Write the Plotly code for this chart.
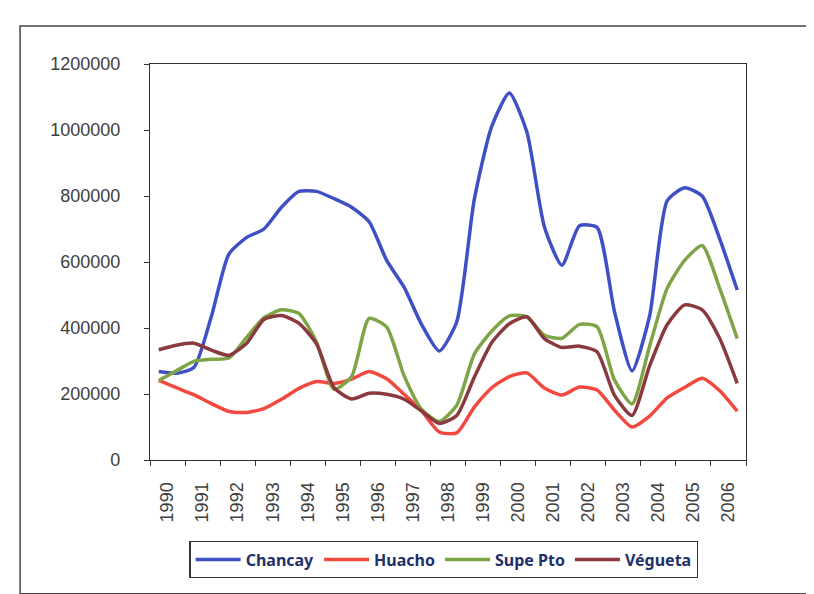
import plotly.graph_objects as go

years = [str(y) for y in range(1990, 2007)]

# semi-annual values (two points per year label)
chancay = [268000, 263000, 280000, 435000, 624000, 674000, 700000, 766000, 814000, 814000,
           792000, 766000, 722000, 605000, 523000, 410000, 330000, 419000, 790000, 1012000,
           1112000, 994000, 706000, 590000, 710000, 705000, 449000, 270000, 436000, 785000,
           825000, 800000, 670000, 515000]
huacho = [241000, 219000, 198000, 171000, 147000, 144000, 156000, 184000, 217000, 238000,
          232000, 245000, 268000, 246000, 199000, 148000, 85000, 82000, 160000, 219000,
          253000, 264000, 218000, 197000, 221000, 212000, 151000, 100000, 133000, 188000,
          220000, 248000, 210000, 148000]
supe_pto = [241000, 270000, 299000, 305000, 309000, 371000, 431000, 455000, 444000, 357000,
            214000, 253000, 429000, 403000, 255000, 153000, 117000, 166000, 321000, 391000,
            437000, 434000, 378000, 369000, 411000, 404000, 242000, 170000, 345000, 520000,
            605000, 650000, 520000, 368000]
vegueta = [334000, 348000, 354000, 333000, 317000, 353000, 426000, 438000, 414000, 352000,
           219000, 185000, 202000, 199000, 184000, 148000, 111000, 135000, 251000, 356000,
           413000, 434000, 368000, 341000, 345000, 328000, 196000, 135000, 285000, 410000,
           470000, 455000, 368000, 232000]

series = [
    ("Chancay", chancay, "#3f4fc6"),
    ("Huacho", huacho, "#f2483f"),
    ("Supe Pto", supe_pto, "#7fa446"),
    ("Végueta", vegueta, "#8a3a3c"),
]

n = len(chancay)
xpos = [-0.25 + 0.5 * i for i in range(n)]

fig = go.Figure()
for name, vals, col in series:
    fig.add_trace(go.Scatter(
        x=xpos, y=vals, name=name, mode="lines",
        line=dict(color=col, width=3.5, shape="spline", smoothing=0.6),
    ))

axis_col = "#333333"
tick_font = dict(family="Liberation Sans", size=18, color="#404040")

fig.update_xaxes(
    range=[-0.5, len(years) - 0.5],
    tickmode="array", tickvals=list(range(len(years))), ticktext=years,
    tickangle=-90, ticks="", tickfont=tick_font, ticklabelstandoff=14,
    showline=True, linecolor=axis_col, linewidth=1.3, mirror=True,
    showgrid=False, zeroline=False,
    minor=dict(tickmode="array", tickvals=[k - 0.5 for k in range(len(years) + 1)],
               ticks="outside", ticklen=5, tickcolor=axis_col, tickwidth=1.3, showgrid=False),
)
fig.update_yaxes(
    range=[0, 1200000], tickmode="linear", tick0=0, dtick=200000, tickformat="d",
    ticks="outside", ticklen=5, tickcolor=axis_col, tickwidth=1.3,
    tickfont=tick_font, ticklabelstandoff=20,
    showline=True, linecolor=axis_col, linewidth=1.3, mirror=True,
    showgrid=False, zeroline=False,
)

fig.update_layout(
    width=814, height=594,
    margin=dict(l=142, r=76, t=56, b=142),
    plot_bgcolor="white", paper_bgcolor="white",
    showlegend=True,
    legend=dict(
        orientation="h", x=0.493, xanchor="center", y=-0.205, yanchor="top",
        bordercolor="#333333", borderwidth=1.3, bgcolor="white",
        font=dict(family="Noto Sans", size=16, color="#22306a", weight="bold"),
        itemwidth=45,
    ),
    shapes=[dict(type="rect", xref="paper", yref="paper",
                 x0=-0.218, x1=1.108, y0=-0.338, y1=1.096,
                 line=dict(color="#444444", width=1.5), layer="below")],
)

fig.write_html("out.html")
